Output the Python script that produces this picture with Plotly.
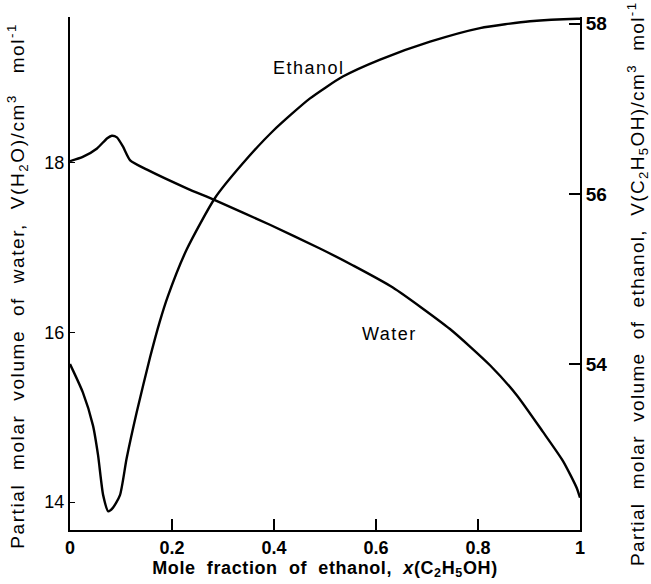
import plotly.graph_objects as go

# Water partial molar volume (left axis)
x_water = [0, 0.025, 0.053, 0.073, 0.082, 0.092, 0.104, 0.118, 0.151, 0.229, 0.284,
           0.392, 0.490, 0.555, 0.633, 0.745, 0.824, 0.876, 0.927, 0.967, 0.994, 1.0]
v_water = [18.02, 18.07, 18.17, 18.29, 18.32, 18.30, 18.19, 18.03, 17.92, 17.70, 17.56,
           17.27, 16.99, 16.79, 16.53, 16.04, 15.61, 15.26, 14.83, 14.48, 14.16, 14.05]

# Ethanol partial molar volume (right axis)
x_eth = [0, 0.025, 0.045, 0.055, 0.065, 0.075, 0.084, 0.098, 0.111, 0.131, 0.157, 0.176,
         0.192, 0.229, 0.284, 0.339, 0.398, 0.470, 0.535, 0.608, 0.706, 0.804, 0.902, 0.994, 1.0]
v_eth = [54.0, 53.67, 53.28, 52.93, 52.46, 52.27, 52.31, 52.46, 52.89, 53.44, 54.08, 54.50,
         54.80, 55.35, 55.95, 56.36, 56.74, 57.12, 57.38, 57.58, 57.79, 57.95, 58.03, 58.06, 58.06]

x_ticks = [0, 0.2, 0.4, 0.6, 0.8, 1]
x_ticklabels = ["0", "0.2", "0.4", "0.6", "0.8", "1"]
left_ticks = [14, 16, 18]
right_ticks = [54, 56, 58]

FONT = "Liberation Sans, Arial, Helvetica, sans-serif"
sp = "&nbsp;"


def spaced(txt, ls):
    return '<span style="letter-spacing:%spx">%s</span>' % (ls, txt)


fig = go.Figure()
fig.add_trace(go.Scatter(x=x_water, y=v_water, mode="lines", name="Water",
                         line=dict(color="black", width=2.4, shape="spline", smoothing=0.6),
                         showlegend=False))
fig.add_trace(go.Scatter(x=x_eth, y=v_eth, mode="lines", name="Ethanol", yaxis="y2",
                         line=dict(color="black", width=2.4, shape="spline", smoothing=0.6),
                         showlegend=False))

fig.add_annotation(x=0.469, y=57.48, xref="x", yref="y2", text=spaced("Ethanol", 1.5), showarrow=False,
                   font=dict(family=FONT, size=18, color="black"))
fig.add_annotation(x=0.627, y=15.98, xref="x", yref="y", text=spaced("Water", 1.5), showarrow=False,
                   font=dict(family=FONT, size=18, color="black"))

xtitle = spaced("Mole" + sp + " fraction" + sp + " of" + sp + " ethanol," + sp + " <i>x</i>(C<sub>2</sub>H<sub>5</sub>OH)", 0.6)
ytitle = spaced("Partial" + sp + " molar" + sp + " volume" + sp + " of" + sp + " water," + sp + " V(H<sub>2</sub>O)/cm<sup>3</sup>" + sp + sp + " mol<sup>-1</sup>", 1.6)
y2title = spaced("Partial" + sp + " molar" + sp + " volume" + sp + " of" + sp + " ethanol," + sp + " V(C<sub>2</sub>H<sub>5</sub>OH)/cm<sup>3</sup>" + sp + " mol<sup>-1</sup>", 1.35)

# vertical axis titles
fig.add_annotation(x=-0.102, y=0.476, xref="paper", yref="paper", text=ytitle, textangle=-90,
                   showarrow=False, xanchor="center", yanchor="middle",
                   font=dict(family=FONT, size=19, color="black"))
fig.add_annotation(x=1.114, y=0.48, xref="paper", yref="paper", text=y2title, textangle=-90,
                   showarrow=False, xanchor="center", yanchor="middle",
                   font=dict(family=FONT, size=19, color="black"))

fig.update_layout(
    width=651, height=584,
    margin=dict(l=70, r=71, t=17, b=52),
    paper_bgcolor="white", plot_bgcolor="white",
    font=dict(family=FONT, color="black"),
    xaxis=dict(range=[0, 1], tickvals=x_ticks, ticktext=x_ticklabels,
               ticks="inside", ticklen=11, tickwidth=2, tickcolor="black",
               showline=True, linecolor="black", linewidth=2, showgrid=False, zeroline=False,
               tickfont=dict(family=FONT, size=18, color="black", weight="bold"),
               title=dict(text=xtitle,
                          font=dict(family=FONT, size=18, color="black", weight="bold"), standoff=2)),
    yaxis=dict(range=[13.67, 19.72], tickvals=left_ticks,
               ticks="inside", ticklen=5, tickwidth=1, tickcolor="black",
               showline=True, linecolor="black", linewidth=2, showgrid=False, zeroline=False,
               tickfont=dict(family=FONT, size=18, color="black")),
    yaxis2=dict(range=[52.05, 58.08], tickvals=right_ticks, overlaying="y", side="right",
                ticks="inside", ticklen=11, tickwidth=2, tickcolor="black",
                showline=True, linecolor="black", linewidth=2, showgrid=False, zeroline=False,
                tickfont=dict(family=FONT, size=19, color="black", weight="bold")),
)

fig.write_html("out.html")
